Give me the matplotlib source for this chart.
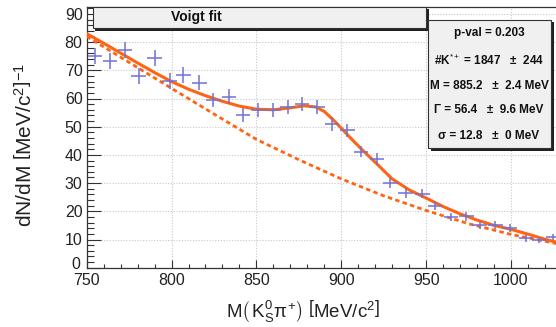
import matplotlib
matplotlib.use("Agg")
import matplotlib.pyplot as plt
from matplotlib.patches import Rectangle
from matplotlib.ticker import MultipleLocator, FuncFormatter

plt.rcParams['font.family'] = ['Liberation Sans', 'DejaVu Sans']
plt.rcParams['mathtext.fontset'] = 'custom'
plt.rcParams['mathtext.rm'] = 'Liberation Sans'
plt.rcParams['mathtext.it'] = 'Liberation Sans'
plt.rcParams['mathtext.bf'] = 'Liberation Sans:bold'

# ---- data ----
mass = [754.9, 763.7, 772.6, 780.6, 790.0, 798.8, 807.0, 816.3, 824.6, 833.8, 842.1,
        850.9, 860.0, 868.4, 876.9, 886.0, 894.6, 903.6, 911.7, 921.0, 928.9, 938.0,
        947.8, 955.3, 964.6, 973.8, 981.6, 990.8, 999.3, 1008.8, 1016.8, 1024.9]
counts = [75.2, 73.3, 77.2, 68.0, 74.5, 66.2, 68.3, 65.6, 59.5, 60.6, 54.1,
          55.9, 55.9, 56.9, 57.9, 57.1, 51.0, 48.8, 41.2, 38.5, 30.0, 26.5,
          26.3, 22.0, 18.0, 18.2, 15.3, 15.3, 14.1, 10.4, 9.7, 10.9]
count_err = [2.8, 2.8, 2.9, 2.7, 2.8, 2.7, 2.7, 2.7, 2.6, 2.6, 2.4,
             2.5, 2.5, 2.5, 2.5, 2.5, 2.4, 2.3, 2.1, 2.1, 1.9, 1.7,
             1.7, 1.6, 1.5, 1.5, 1.4, 1.4, 1.3, 1.2, 1.1, 1.2]
bin_half = 4.3

fit_m = [750, 760, 770, 780, 790, 800, 810, 820, 830, 840, 850, 860, 870, 878,
         885, 890, 895, 900, 905, 912, 920, 930, 940, 950, 960, 970, 980, 990,
         1000, 1010, 1020, 1029]
fit_y = [83.0, 79.6, 76.1, 72.6, 69.2, 66.0, 63.3, 61.0, 59.0, 57.3, 56.2, 56.0,
         56.7, 57.4, 57.0, 55.4, 52.6, 49.5, 46.3, 42.0, 37.4, 31.5, 27.6, 24.7,
         21.7, 19.1, 16.9, 15.0, 13.6, 11.9, 10.1, 8.7]

bg_m = [750, 775, 800, 825, 850, 875, 900, 925, 950, 975, 1000, 1029]
bg_y = [82.0, 72.8, 63.6, 54.5, 45.5, 38.3, 31.5, 25.5, 20.3, 15.6, 11.8, 8.3]

stat_lines = ["p-val = 0.203",
              "#K$^{*+}$ = 1847   ±  244",
              "M = 885.2   ±  2.4 MeV",
              "Γ = 56.4   ±  9.6 MeV",
              "σ = 12.8   ±  0 MeV"]
title = "Voigt fit"

W, H = 556, 327
fig = plt.figure(figsize=(W / 100, H / 100), dpi=100)

def fx(px):
    return px / W

def fy(py):
    return 1 - py / H

ax_l, ax_r, ax_t, ax_b = 86.7, 560.0, 6.7, 267.7
ax = fig.add_axes([fx(ax_l), fy(ax_b), fx(ax_r - ax_l), (ax_b - ax_t) / H])
ax.set_xlim(750, 750 + (ax_r - ax_l) / 1.697)
ax.set_ylim(0, (ax_b - ax_t) / 2.82)

ax.grid(True, which='major', color='#c8c8c8', linestyle=(0, (1, 1.5)), linewidth=0.8)
ax.set_axisbelow(True)

fit_col = '#ff6414'
ax.plot(bg_m, bg_y, color=fit_col, lw=2.0, linestyle=(0, (1.6, 1.2)), zorder=3)
ax.plot(fit_m, fit_y, color=fit_col, lw=2.2, zorder=4)
ax.errorbar(mass, counts, xerr=bin_half, yerr=count_err, fmt='none',
            ecolor='#7272d2', elinewidth=1.1, capsize=0, zorder=5)

ax.xaxis.set_major_locator(MultipleLocator(50))
ax.xaxis.set_minor_locator(MultipleLocator(10))
ax.yaxis.set_major_locator(MultipleLocator(10))
ax.yaxis.set_minor_locator(MultipleLocator(2))
# the "0" of the y axis is drawn separately, slightly raised as in the reference
ax.yaxis.set_major_formatter(FuncFormatter(lambda v, p: '' if abs(v) < 1e-9 else f'{v:g}'))
ax.tick_params(axis='x', which='major', direction='in', length=6, width=0.8,
               labelsize=11.5, pad=4, colors='#333333', labelcolor='#222222')
ax.tick_params(axis='x', which='minor', direction='in', length=3, width=0.8, colors='#333333')
ax.tick_params(axis='y', which='major', direction='in', length=10, width=0.8,
               labelsize=11.5, pad=3, colors='#333333', labelcolor='#222222')
ax.tick_params(axis='y', which='minor', direction='in', length=5, width=0.8, colors='#333333')
for s in ax.spines.values():
    s.set_color('#333333')
    s.set_linewidth(0.9)
ax.annotate('0', xy=(0, 0), xycoords='axes fraction', xytext=(-4.5, 2),
            textcoords='offset points', ha='right', va='center',
            fontsize=11.5, color='#222222')

# axis titles
fig.text(fx(303), fy(311), r'M$\left(\,\mathrm{K^{0}_{S}}\pi^{+}\right)$ $\left[\mathrm{MeV/c^{2}}\right]$',
         ha='center', va='center', fontsize=13.5, color='#222222')
fig.text(fx(25), fy(145), r'dN/dM $\left[\mathrm{MeV/c^{2}}\right]^{-1}$',
         ha='center', va='center', rotation=90, fontsize=15, color='#222222')

# boxes with ROOT-like shadow
def box(x0, y0, x1, y1, sh=2.5):
    fig.patches.append(Rectangle((fx(x0 + sh), fy(y1 + sh)), fx(x1 - x0), (y1 - y0) / H,
                                 transform=fig.transFigure, facecolor='#222222',
                                 edgecolor='none', zorder=10))
    fig.patches.append(Rectangle((fx(x0), fy(y1)), fx(x1 - x0), (y1 - y0) / H,
                                 transform=fig.transFigure, facecolor='#f0f0f0',
                                 edgecolor='#333333', linewidth=0.8, zorder=11))

box(93, 6.7, 426, 28)
fig.text(fx(196), fy(17), title, ha='center', va='center', fontsize=10,
         fontweight='bold', color='#111111', zorder=12)

box(428, 20, 551, 148)
ys = [33, 60, 86, 110, 136]
for t, yy in zip(stat_lines, ys):
    fig.text(fx(489), fy(yy), t, ha='center', va='center', fontsize=8.5,
             fontweight='bold', color='#111111', zorder=12)

fig.savefig('out.png', dpi=100)
